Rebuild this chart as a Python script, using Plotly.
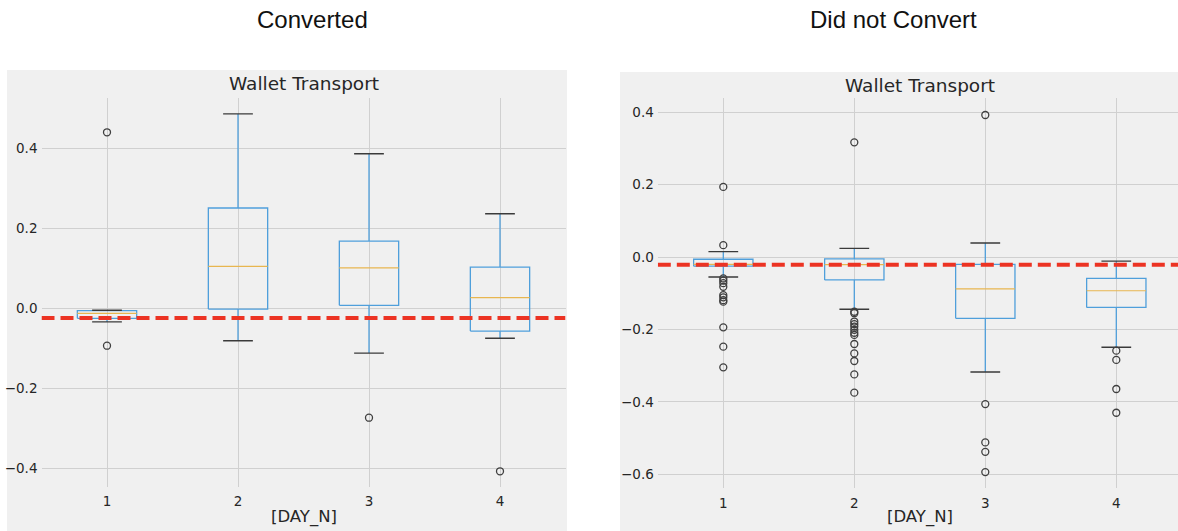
import plotly.graph_objects as go

# ---------------------------------------------------------------
# Box-plot statistics of "Wallet Transport" by day, per group
# ---------------------------------------------------------------
days = [1, 2, 3, 4]
tick_labels = ["1", "2", "3", "4"]

# Converted
conv_q1 = [-0.025, -0.002, 0.0075, -0.057]
conv_median = [-0.0125, 0.105, 0.101, 0.0265]
conv_q3 = [-0.006, 0.2507, 0.168, 0.103]
conv_lower = [-0.034, -0.081, -0.112, -0.075]
conv_upper = [-0.005, 0.486, 0.3865, 0.2365]
conv_outlier_day = [1, 1, 3, 4]
conv_outlier_val = [0.44, -0.0935, -0.2735, -0.4075]
conv_threshold = -0.024

# Did not Convert
nc_q1 = [-0.025, -0.063, -0.169, -0.139]
nc_median = [-0.020, -0.021, -0.088, -0.093]
nc_q3 = [-0.006, -0.005, -0.020, -0.0587]
nc_lower = [-0.055, -0.144, -0.3175, -0.249]
nc_upper = [0.015, 0.024, 0.039, -0.011]
nc_outlier_day = (
    [1] * 13 + [2] * 14 + [3] * 5 + [4] * 4
)
nc_outlier_val = [
    # day 1
    0.194, 0.033, -0.059, -0.065, -0.072, -0.082, -0.105, -0.111, -0.119,
    -0.123, -0.194, -0.2475, -0.3045,
    # day 2
    0.317, -0.151, -0.155, -0.178, -0.185, -0.192, -0.201, -0.209, -0.215,
    -0.240, -0.266, -0.287, -0.324, -0.3745,
    # day 3
    0.3925, -0.406, -0.512, -0.538, -0.594,
    # day 4
    -0.2585, -0.284, -0.3644, -0.43,
]
nc_threshold = -0.021

# ---------------------------------------------------------------
# Styling
# ---------------------------------------------------------------
W, H = 1178, 531
PANEL_BG = "#f0f0f0"
GRID = "#d0d0d0"
BOX_BLUE = "#4f9fdb"
MEDIAN_COLOR = "#e8b650"
CAP_COLOR = "#3a3a3a"
FLIER_COLOR = "#3f3f3f"
RED = "#ec3323"
TEXT = "#262626"
MPL_FONT = "DejaVu Sans"
HEAD_FONT = "Liberation Sans, Arial, sans-serif"

BOX_HALF = 0.2265   # half of the box width (x units)
CAP_HALF = 0.1135   # half of the whisker-cap width


def px_x(v):
    return v / W


def px_y(v):
    return 1 - v / H


fig = go.Figure()


def add_boxplot(q1, med, q3, lo, hi, out_x, out_y, thr, xa, ya, x_end):
    bx, by, wx, wy, cx, cy, mx, my = [], [], [], [], [], [], [], []
    for d, a, m, b, l, u in zip(days, q1, med, q3, lo, hi):
        bx += [d - BOX_HALF, d + BOX_HALF, d + BOX_HALF, d - BOX_HALF, d - BOX_HALF, None]
        by += [a, a, b, b, a, None]
        wx += [d, d, None, d, d, None]
        wy += [b, u, None, a, l, None]
        cx += [d - CAP_HALF, d + CAP_HALF, None, d - CAP_HALF, d + CAP_HALF, None]
        cy += [u, u, None, l, l, None]
        mx += [d - BOX_HALF, d + BOX_HALF, None]
        my += [m, m, None]

    common = dict(xaxis=xa, yaxis=ya, hoverinfo="skip", showlegend=False)
    fig.add_trace(go.Scatter(x=bx, y=by, mode="lines",
                             line=dict(color=BOX_BLUE, width=1.3), **common))
    fig.add_trace(go.Scatter(x=wx, y=wy, mode="lines",
                             line=dict(color=BOX_BLUE, width=1.3), **common))
    fig.add_trace(go.Scatter(x=cx, y=cy, mode="lines",
                             line=dict(color=CAP_COLOR, width=1.4), **common))
    fig.add_trace(go.Scatter(x=mx, y=my, mode="lines",
                             line=dict(color=MEDIAN_COLOR, width=1.2), **common))
    fig.add_trace(go.Scatter(x=out_x, y=out_y, mode="markers",
                             marker=dict(symbol="circle-open", size=7,
                                         color=FLIER_COLOR, line=dict(width=1.3)),
                             cliponaxis=False, **common))
    # reference line across the whole axis
    fig.add_trace(go.Scatter(x=[0.5, x_end], y=[thr, thr], mode="lines",
                             line=dict(color=RED, width=4, dash="13px,6px"),
                             **common))


add_boxplot(conv_q1, conv_median, conv_q3, conv_lower, conv_upper,
            conv_outlier_day, conv_outlier_val, conv_threshold, "x", "y", 4.5)
add_boxplot(nc_q1, nc_median, nc_q3, nc_lower, nc_upper,
            nc_outlier_day, nc_outlier_val, nc_threshold, "x2", "y2", 4.5)

# Axis geometry (pixel positions of the plotting areas)
L_X0, L_X1, L_Y0, L_Y1 = 41.5, 565.5, 97.7, 486.7
R_X0, R_X1, R_Y0, R_Y1 = 657.8, 1178.0, 98.3, 488.3
R_XMAX = 0.5 + (R_X1 - R_X0) / 131.0

xaxis_style = dict(
    tickmode="array", tickvals=days, ticktext=tick_labels,
    showgrid=True, gridcolor=GRID, gridwidth=1, zeroline=False,
    showline=False, ticks="", ticklabelstandoff=5,
    tickfont=dict(family=MPL_FONT, size=13.5, color=TEXT), fixedrange=True,
)
yaxis_style = dict(
    showgrid=True, gridcolor=GRID, gridwidth=1, zeroline=False,
    showline=False, ticks="", tickformat=".1f", ticklabelstandoff=3,
    tickfont=dict(family=MPL_FONT, size=13.5, color=TEXT), fixedrange=True,
)

fig.update_layout(
    width=W, height=H,
    margin=dict(l=0, r=0, t=0, b=0),
    paper_bgcolor="white",
    plot_bgcolor=PANEL_BG,
    showlegend=False,
    xaxis=dict(domain=[px_x(L_X0), px_x(L_X1)], range=[0.5, 4.5], anchor="y", **xaxis_style),
    yaxis=dict(domain=[px_y(L_Y1), px_y(L_Y0)], range=[-0.446, 0.5265], anchor="x",
               tickvals=[-0.4, -0.2, 0.0, 0.2, 0.4], **yaxis_style),
    xaxis2=dict(domain=[px_x(R_X0), px_x(R_X1)], range=[0.5, R_XMAX], anchor="y2", **xaxis_style),
    yaxis2=dict(domain=[px_y(R_Y1), px_y(R_Y0)], range=[-0.6387, 0.4387], anchor="x2",
                tickvals=[-0.6, -0.4, -0.2, 0.0, 0.2, 0.4], **yaxis_style),
)

# Gray figure panels behind each chart
fig.add_shape(type="rect", xref="paper", yref="paper", layer="below",
              x0=px_x(7), x1=px_x(567), y0=0, y1=px_y(70),
              fillcolor=PANEL_BG, line=dict(width=0))
fig.add_shape(type="rect", xref="paper", yref="paper", layer="below",
              x0=px_x(620), x1=1, y0=0, y1=px_y(72),
              fillcolor=PANEL_BG, line=dict(width=0))

annotations = [
    # group headers
    dict(text="Converted", x=px_x(312), y=px_y(19.5),
         font=dict(family=HEAD_FONT, size=24, color="#111111")),
    dict(text="Did not Convert", x=px_x(893), y=px_y(19.5),
         font=dict(family=HEAD_FONT, size=24, color="#111111")),
    # axes titles
    dict(text="Wallet Transport", x=px_x((L_X0 + L_X1) / 2), y=px_y(84),
         font=dict(family=MPL_FONT, size=18.5, color=TEXT)),
    dict(text="Wallet Transport", x=px_x((R_X0 + 1181.5) / 2), y=px_y(85),
         font=dict(family=MPL_FONT, size=18.5, color=TEXT)),
    # x labels
    dict(text="[DAY_N]", x=px_x((L_X0 + L_X1) / 2), y=px_y(517),
         font=dict(family=MPL_FONT, size=16.5, color=TEXT)),
    dict(text="[DAY_N]", x=px_x((R_X0 + 1181.5) / 2), y=px_y(517),
         font=dict(family=MPL_FONT, size=16.5, color=TEXT)),
]
for a in annotations:
    fig.add_annotation(xref="paper", yref="paper", showarrow=False,
                       xanchor="center", yanchor="middle", **a)

fig.write_html("out.html")
